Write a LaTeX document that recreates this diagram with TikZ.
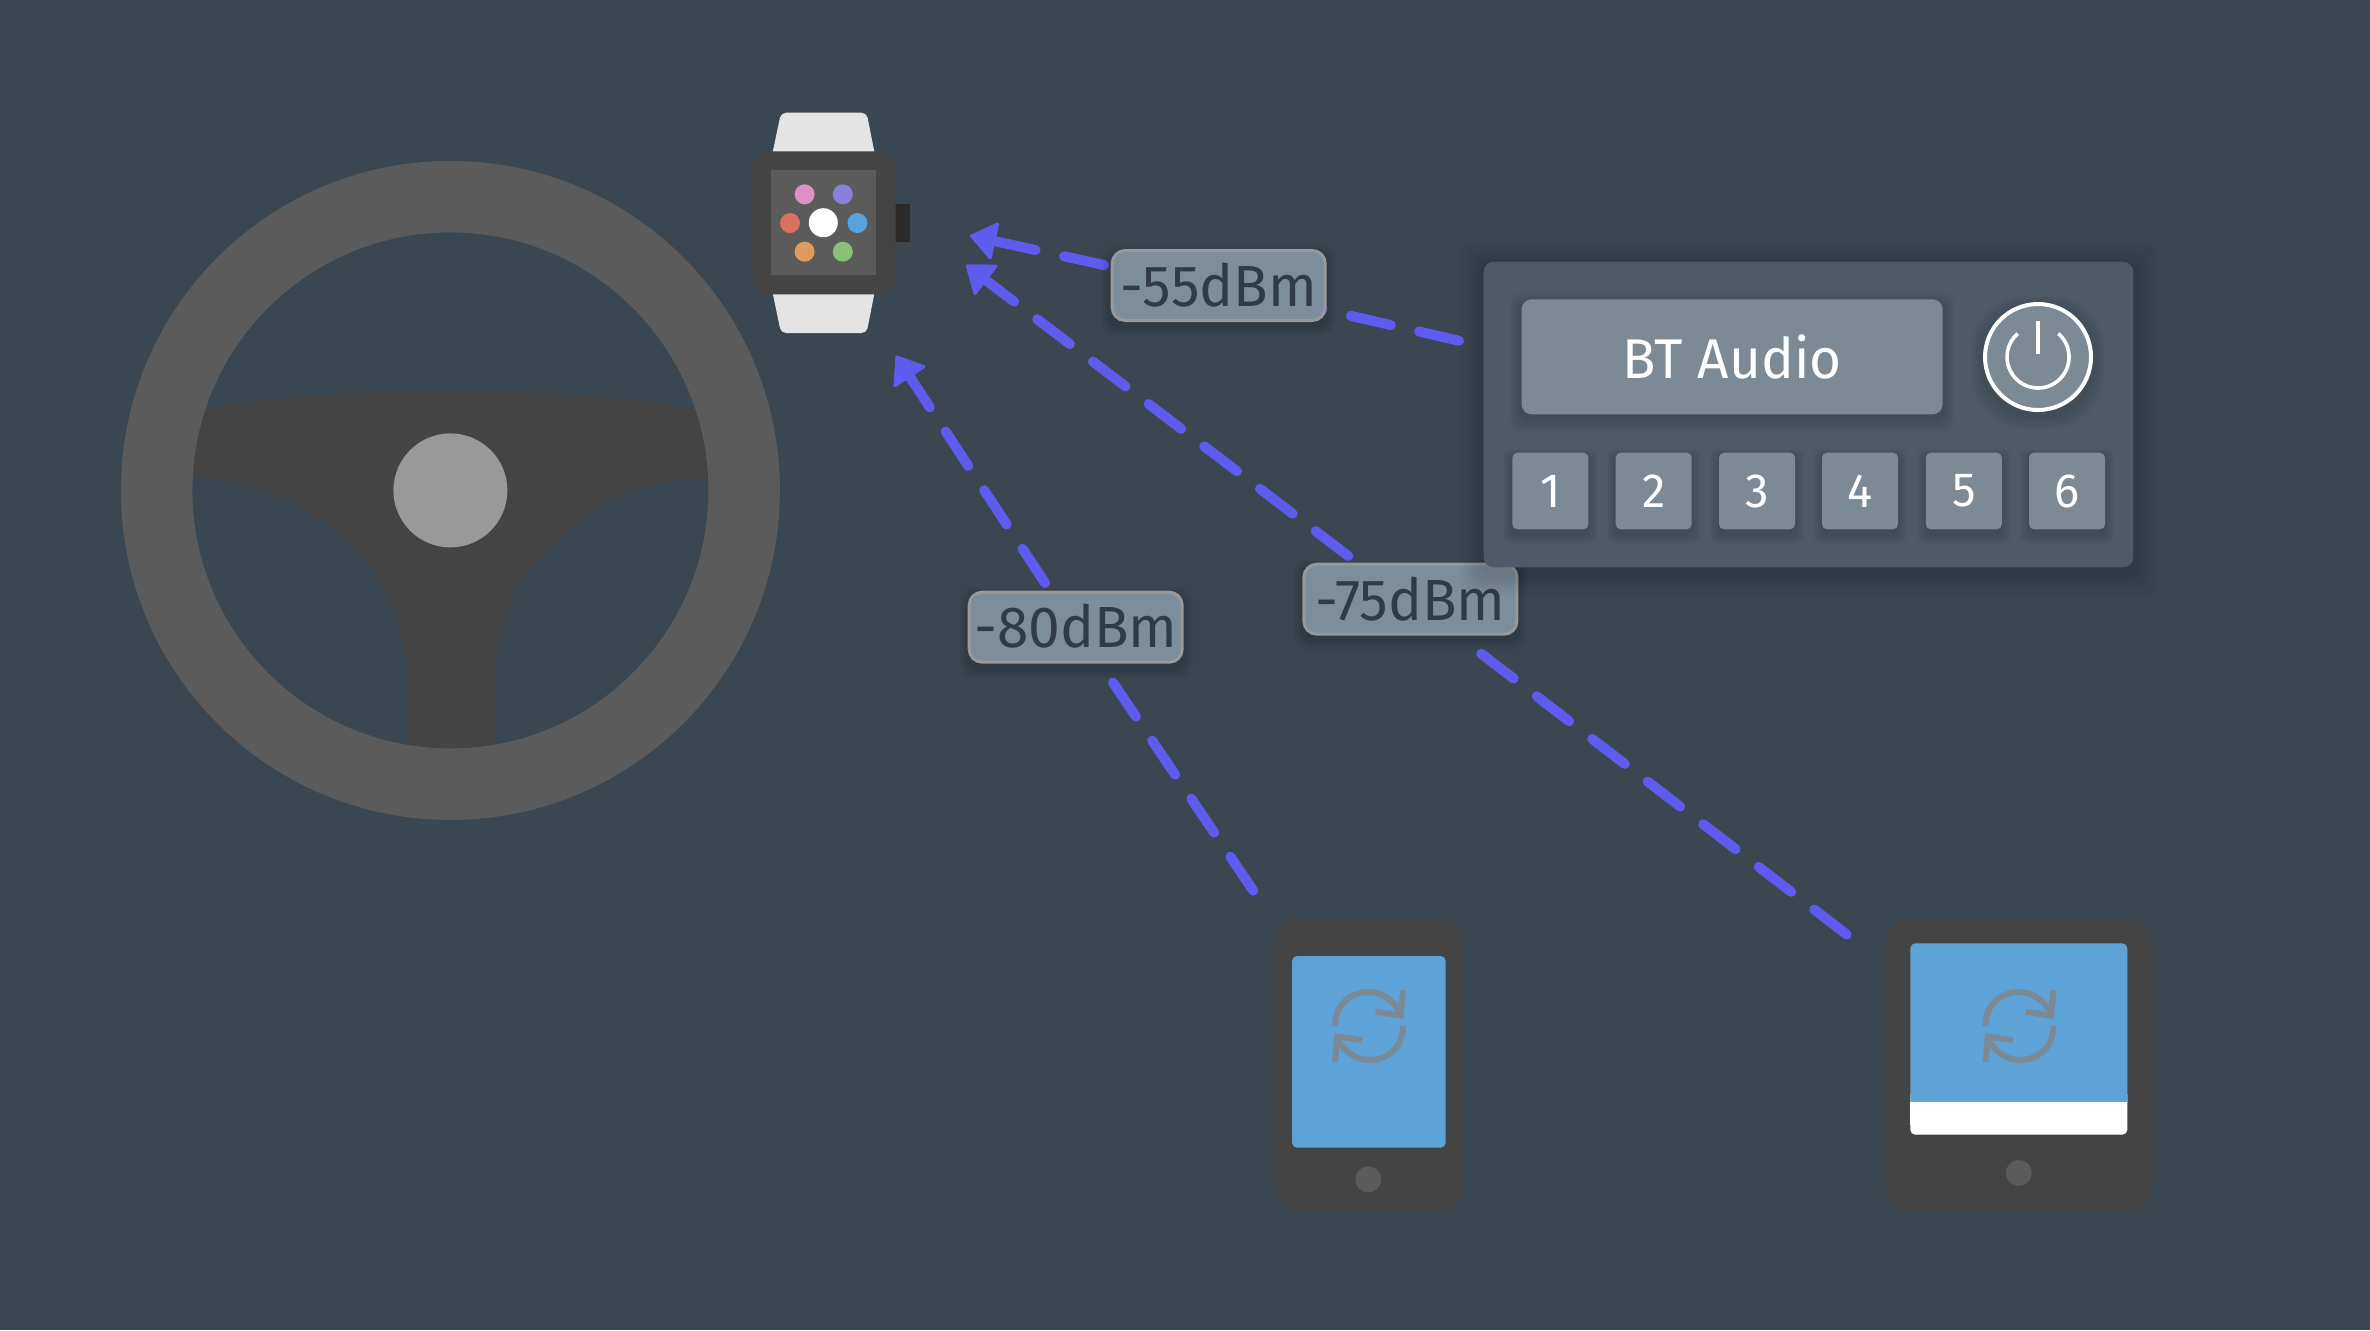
\documentclass[tikz,border=0pt]{standalone}
\usepackage{fontspec}
\usetikzlibrary{arrows.meta}
\newfontfamily\dinfont[FakeStretch=0.98]{Fira Sans}
\definecolor{bgc}{HTML}{3B4750}
\definecolor{ringc}{HTML}{5B5B5B}
\definecolor{darkc}{HTML}{444444}
\definecolor{hubc}{HTML}{999999}
\definecolor{bandc}{HTML}{E4E4E4}
\definecolor{crownc}{HTML}{2A2A2A}
\definecolor{sigc}{HTML}{5E5CEE}
\definecolor{panelc}{HTML}{4D5B68}
\definecolor{btnc}{HTML}{7C8A96}
\definecolor{labelc}{HTML}{7C8E9B}
\definecolor{labeltxt}{HTML}{2F3B4A}
\definecolor{screenc}{HTML}{5DA3D7}
\tikzset{
  signal/.style={sigc,line width=5pt,line cap=round,dash pattern=on 20.5pt off 14.5pt},
  signalhead/.style={signal,-{Triangle[length=13.5pt,width=20pt,line width=1.5pt,round]}},
  dbm/.style={draw=hubc,line width=1.5pt,fill=labelc,rounded corners=6.5pt,
    minimum width=106.5pt,minimum height=35pt,inner sep=0pt,text=labeltxt,
    font=\dinfont\fontsize{29}{29}\selectfont},
  preset/.style={fill=btnc,rounded corners=2.5pt,minimum width=38pt,minimum height=38.3pt,
    inner sep=0pt,text=white,font=\dinfont\fontsize{24}{24}\selectfont},
  syncline/.style={btnc,line width=3pt,line join=miter},
  app/.style={circle,inner sep=0pt,minimum size=#1}
}
\newcommand{\softshadow}[6]{%
  \foreach \sn in {1,2,...,6}{%
    \fill[black,opacity=.022,rounded corners=#5pt]
      ({#1-\sn*#6},{#2-\sn*#6+5}) rectangle ({#3+\sn*#6},{#4+\sn*#6+5});}}
\newcommand{\syncicon}[2]{%
  \begin{scope}[shift={(#1,#2)}]
    \foreach \rr in {0,180}{%
      \begin{scope}[rotate=\rr]
        \draw[syncline] (-34,0) .. controls (-34,-22) and (-18,-34) .. (0,-34)
          .. controls (14,-34) and (26,-24) .. (32,-12);
        \draw[syncline] (34,-36) -- (31.7,-10.3) -- (6.5,-14.3);
      \end{scope}}
  \end{scope}}
\begin{document}
\begin{tikzpicture}[x=0.5pt,y=-0.5pt]
\path[use as bounding box,fill=bgc] (0,0) rectangle (2370,1330);

% steering wheel
\fill[darkc] (188,412) .. controls (320,384) and (580,384) .. (712,412) -- (712,477)
  .. controls (600,480) and (495,560) .. (495,676) -- (494,750) -- (407,750) -- (407,676)
  .. controls (405,560) and (300,480) .. (188,477) -- cycle;
\draw[ringc,line width=35.75pt] (450.4,490.4) circle[radius=293.75];
\node[app=57pt,fill=hubc] (hub) at (450.4,490.4) {};

% watch
\fill[bandc,rounded corners=2.5pt] (771,160) -- (781,112.7) -- (866.6,112.7) -- (876,160) -- cycle;
\fill[bandc,rounded corners=2.5pt] (771,285) -- (781,333) -- (866.6,333) -- (876,285) -- cycle;
\fill[crownc] (890,204) rectangle (909.8,242);
\node[fill=darkc,rounded corners=8.5pt,minimum width=71.6pt,minimum height=71.5pt,inner sep=0pt] (watch) at (824.1,222.8) {};
\fill[ringc] (771,170.3) rectangle (876,275.3);
\node[app=14.5pt,fill=white] (a0) at (823.3,222.7) {};
\node[app=10pt,fill={rgb,255:red,224;green,143;blue,196}] (a1) at (804.6,194.3) {};
\node[app=10pt,fill={rgb,255:red,136;green,128;blue,218}] (a2) at (842.8,194.3) {};
\node[app=10pt,fill={rgb,255:red,218;green,112;blue,96}] (a3) at (790,223) {};
\node[app=10pt,fill={rgb,255:red,88;green,163;blue,222}] (a4) at (857.4,223) {};
\node[app=10pt,fill={rgb,255:red,224;green,154;blue,96}] (a5) at (804.6,251.7) {};
\node[app=10pt,fill={rgb,255:red,136;green,192;blue,120}] (a6) at (842.8,251.7) {};

% label centres
\path (1218.7,285.5) coordinate (c55) (1075.7,627.2) coordinate (c80) (1410.4,599.2) coordinate (c75);

% connectors
\coordinate (src55) at (1459,340.7);
\coordinate (out55) at (1104,265);
\coordinate (tip55) at (970,235.7);
\coordinate (src75) at (1846.7,934.5);
\coordinate (out75) at (1348.3,556);
\coordinate (tip75) at (966,265);
\coordinate (src80) at (1253.3,890.7);
\coordinate (out80) at (1045,583);
\coordinate (tip80) at (896,355.7);
\draw[signal] (src55) -- (c55);
\draw[signalhead] (out55) -- (tip55);
\draw[signal,shorten >=42pt] (src75) -- (c75);
\draw[signalhead] (out75) -- (tip75);
\draw[signal] (src80) -- (c80);
\draw[signalhead] (out80) -- (tip80);

% labels
\softshadow{1110}{249}{1327}{322}{7}{1.5}
\node[dbm] (l55) at (c55) {-55dBm};
\softshadow{968}{591}{1184}{664}{7}{1.5}
\node[dbm] (l80) at (c80) {\raisebox{1.5pt}{-80dBm}};
\softshadow{1302}{563}{1518}{636}{7}{1.5}
\node[dbm] (l75) at (c75) {-75dBm};

% radio panel
\softshadow{1483.7}{261.7}{2133.2}{567.3}{6}{4}
\fill[panelc,rounded corners=5pt] (1483.7,261.7) rectangle (2133.2,567.3);
\softshadow{1521.6}{299.3}{1942.6}{414.3}{5}{2}
\node[fill=btnc,rounded corners=5pt,minimum width=210.5pt,minimum height=57.5pt,inner sep=0pt,
  text=white,font=\dinfont\fontsize{28}{28}\selectfont] (bt) at (1732.1,356.8) {BT Audio};
\softshadow{1983}{302}{2093}{412}{27}{2}
\node[app=53pt,fill=btnc,draw=white,line width=2pt] (pwr) at (2038,357) {};
\draw[white,line width=1.8pt] ([shift={(49:15.5pt)}]pwr.center) arc[start angle=49,end angle=-229,radius=15.5pt];
\coordinate (pwrtop) at (2038,321);
\coordinate (pwrlow) at (2038,354.3);
\draw[white,line width=1.8pt] (pwrtop) -- (pwrlow);
\foreach \n/\x in {1/1550.4,2/1653.7,3/1757,4/1860,5/1963.8,6/2067}{
  \softshadow{\x-38}{452.7}{\x+38}{529.3}{3}{1.5}
  \node[preset] (b\n) at (\x,491) {\n};
}

% phone
\node[fill=darkc,rounded corners=12.5pt,minimum width=94.8pt,minimum height=146.7pt,inner sep=0pt] (phone) at (1368.8,1065) {};
\node[fill=screenc,rounded corners=2.5pt,minimum width=76.8pt,minimum height=95.85pt,inner sep=0pt] (phonescr) at (1368.8,1051.85) {};
\node[app=13pt,fill=ringc] (phonebtn) at (1368.3,1179.3) {};
\syncicon{1369}{1026}

% tablet
\node[fill=darkc,rounded corners=12.5pt,minimum width=133.65pt,minimum height=146.7pt,inner sep=0pt] (tablet) at (2019.35,1065) {};
\fill[white,rounded corners=2.5pt] (1910.3,1090) rectangle (2127.3,1134.7);
\fill[screenc,rounded corners=2.5pt] (1910.3,1110) -- (1910.3,943.3) -- (2127.3,943.3) -- (2127.3,1110) -- cycle;
\fill[white] (1910.3,1102.3) rectangle (2127.3,1125);
\node[app=13pt,fill=ringc] (tabletbtn) at (2018.8,1173) {};
\syncicon{2019.4}{1026}
\end{tikzpicture}
\end{document}
